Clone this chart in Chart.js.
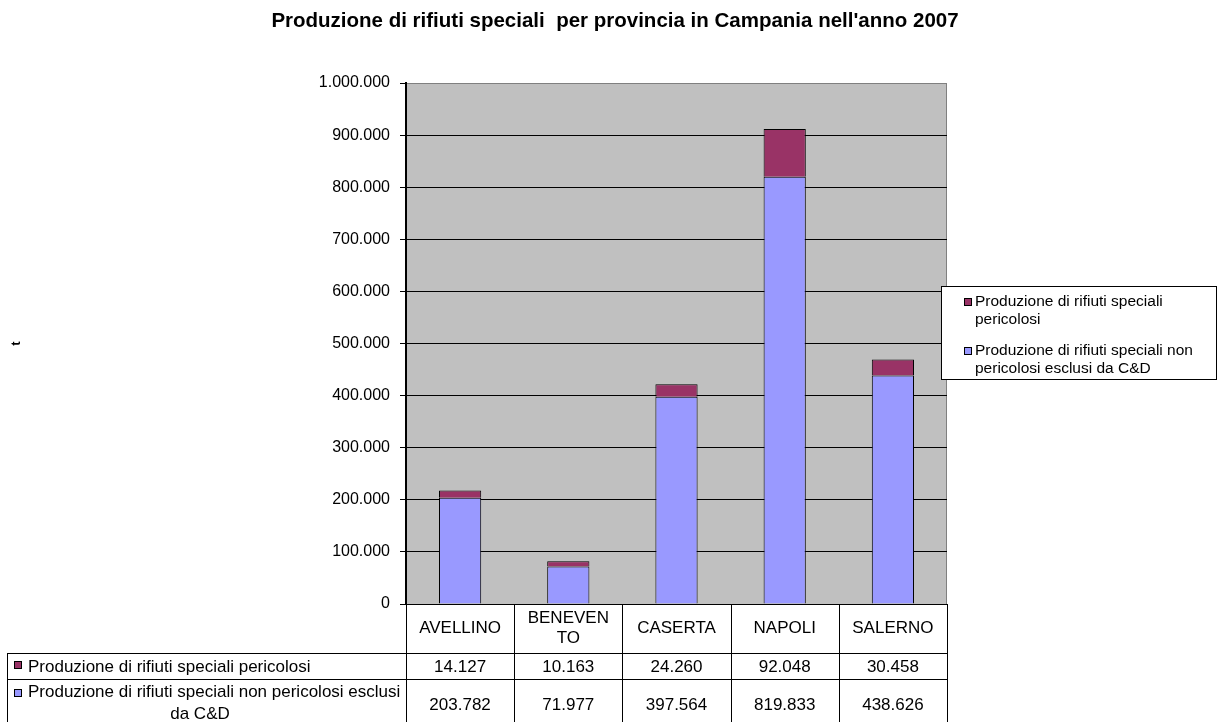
<!DOCTYPE html>
<html lang="it">
<head>
  <meta charset="UTF-8" />
  <title>Rifiuti speciali Campania 2007</title>
  <script src="https://cdn.jsdelivr.net/npm/chart.js"></script>
  <style>
    body { margin: 0; background: #fff; }
    #wrap { width: 1226px; height: 722px; position: relative; }
  </style>
</head>
<body>
  <div id="wrap"><canvas id="rifiuti-chart"></canvas></div>

  <script>
    const categories = ['AVELLINO', 'BENEVENTO', 'CASERTA', 'NAPOLI', 'SALERNO'];
    const pericolosi = [14127, 10163, 24260, 92048, 30458];
    const nonPericolosi = [203782, 71977, 397564, 819833, 438626];
    const seriesLabels = [
      'Produzione di rifiuti speciali pericolosi',
      'Produzione di rifiuti speciali non pericolosi esclusi da C&D'
    ];
    const seriesColors = ['#993366', '#9999FF'];
    const yMin = 0, yMax = 1000000, yStep = 100000;
    const titleText = "Produzione di rifiuti speciali  per provincia in Campania nell'anno 2007";
    const yTitle = 't';

    const FONT = '"Liberation Sans", Arial, sans-serif';

    // 1234567 -> "1.234.567"
    function fmt(v) {
      return String(v).replace(/\B(?=(\d{3})+(?!\d))/g, '.');
    }

    function wrapWords(ctx, text, maxW) {
      const words = text.split(' ');
      const lines = [];
      let cur = '';
      words.forEach(w => {
        const test = cur ? cur + ' ' + w : w;
        if (cur && ctx.measureText(test).width > maxW) {
          lines.push(cur);
          cur = w;
        } else {
          cur = test;
        }
      });
      if (cur) lines.push(cur);
      return lines;
    }

    function wrapChars(ctx, text, maxW) {
      const lines = [];
      let cur = '';
      for (const ch of text) {
        if (cur && ctx.measureText(cur + ch).width > maxW) {
          lines.push(cur);
          cur = ch;
        } else {
          cur += ch;
        }
      }
      if (cur) lines.push(cur);
      return lines;
    }

    function drawKey(ctx, x, y, color) {
      ctx.fillStyle = color;
      ctx.fillRect(x, y, 8, 8);
      ctx.strokeStyle = '#000';
      ctx.lineWidth = 1;
      ctx.strokeRect(x + 0.5, y + 0.5, 7, 7);
    }

    function hline(ctx, x1, x2, y) {
      ctx.beginPath();
      ctx.moveTo(x1, y + 0.5);
      ctx.lineTo(x2, y + 0.5);
      ctx.stroke();
    }

    function vline(ctx, x, y1, y2) {
      ctx.beginPath();
      ctx.moveTo(Math.round(x) + 0.5, y1);
      ctx.lineTo(Math.round(x) + 0.5, y2);
      ctx.stroke();
    }

    // page title, centred on the whole canvas
    const pageTitle = {
      id: 'pageTitle',
      afterDraw(chart) {
        const { ctx } = chart;
        ctx.save();
        ctx.fillStyle = '#000';
        ctx.font = 'bold 20.5px ' + FONT;
        ctx.textAlign = 'center';
        ctx.textBaseline = 'alphabetic';
        ctx.fillText(titleText, 615, 27);
        ctx.restore();
      }
    };

    // gray plot background + gray right edge
    const plotBackground = {
      id: 'plotBackground',
      beforeDraw(chart) {
        const { ctx, chartArea: a } = chart;
        ctx.save();
        ctx.fillStyle = '#C0C0C0';
        ctx.fillRect(a.left, a.top, a.right - a.left, a.bottom - a.top);
        ctx.strokeStyle = '#808080';
        ctx.lineWidth = 1;
        vline(ctx, a.right - 1, a.top, a.bottom);
        ctx.restore();
      }
    };

    // data table under the plot
    const dataTable = {
      id: 'dataTable',
      afterDraw(chart) {
        const { ctx, chartArea: a } = chart;
        const n = categories.length;
        const colW = (a.right - a.left) / n;
        const bottom = chart.height;
        const row1Top = 653, row2Top = 679, tableLeft = 7;

        ctx.save();
        ctx.strokeStyle = '#000';
        ctx.lineWidth = 1;
        for (let i = 0; i <= n; i++) vline(ctx, a.left + i * colW, a.bottom, bottom);
        vline(ctx, tableLeft, row1Top, bottom);
        hline(ctx, tableLeft, a.right, row1Top);
        hline(ctx, tableLeft, a.right, row2Top);

        ctx.fillStyle = '#000';
        ctx.font = '17px ' + FONT;
        ctx.textAlign = 'center';
        ctx.textBaseline = 'middle';

        // category header
        categories.forEach((c, i) => {
          const cx = a.left + (i + 0.5) * colW;
          const lines = wrapChars(ctx, c, colW - 24);
          const lh = 20;
          const y0 = 628 - (lines.length - 1) * lh / 2;
          lines.forEach((l, k) => ctx.fillText(l, cx, y0 + k * lh));
        });

        // row 1: pericolosi
        drawKey(ctx, 14, 661, seriesColors[0]);
        ctx.fillStyle = '#000';
        ctx.textAlign = 'left';
        ctx.fillText(seriesLabels[0], 28, 667);
        ctx.textAlign = 'center';
        pericolosi.forEach((v, i) => ctx.fillText(fmt(v), a.left + (i + 0.5) * colW, 667));

        // row 2: non pericolosi
        drawKey(ctx, 14, 689, seriesColors[1]);
        ctx.fillStyle = '#000';
        const lines2 = wrapWords(ctx, seriesLabels[1], a.left - 30);
        ctx.textAlign = 'left';
        ctx.fillText(lines2[0], 28, 692);
        ctx.textAlign = 'center';
        lines2.slice(1).forEach((l, k) => ctx.fillText(l, 200, 714 + k * 19));
        nonPericolosi.forEach((v, i) => ctx.fillText(fmt(v), a.left + (i + 0.5) * colW, 705));
        ctx.restore();
      }
    };

    // boxed legend on the right
    const boxLegend = {
      id: 'boxLegend',
      afterDraw(chart) {
        const { ctx } = chart;
        const box = { x: 941, y: 286, w: 276, h: 94 };
        ctx.save();
        ctx.fillStyle = '#fff';
        ctx.fillRect(box.x, box.y, box.w, box.h);
        ctx.strokeStyle = '#000';
        ctx.lineWidth = 1;
        ctx.strokeRect(box.x + 0.5, box.y + 0.5, box.w - 1, box.h - 1);

        ctx.font = '15.5px ' + FONT;
        ctx.textAlign = 'left';
        ctx.textBaseline = 'middle';
        let y = 302;
        [0, 1].forEach(s => {
          drawKey(ctx, 964, y - 4, seriesColors[s]);
          ctx.fillStyle = '#000';
          const lines = wrapWords(ctx, seriesLabels[s], 236);
          lines.forEach((l, k) => ctx.fillText(l, 975, y + k * 18));
          y += 49;
        });
        ctx.restore();
      }
    };

    const ctx = document.getElementById('rifiuti-chart').getContext('2d');

    new Chart(ctx, {
      type: 'bar',
      data: {
        labels: categories,
        datasets: [
          {
            label: seriesLabels[1],
            data: nonPericolosi,
            backgroundColor: seriesColors[1],
            borderColor: '#000',
            borderWidth: 1
          },
          {
            label: seriesLabels[0],
            data: pericolosi,
            backgroundColor: seriesColors[0],
            borderColor: '#000',
            borderWidth: 1
          }
        ]
      },
      options: {
        responsive: true,
        maintainAspectRatio: false,
        animation: false,
        categoryPercentage: 1,
        barPercentage: 0.39,
        layout: { padding: { left: 0, right: 279, top: 83, bottom: 118 } },
        plugins: {
          legend: { display: false },
          tooltip: { enabled: false },
          title: { display: false }
        },
        scales: {
          x: {
            display: false,
            stacked: true
          },
          y: {
            stacked: true,
            min: yMin,
            max: yMax,
            afterFit(scale) { scale.width = 406; },
            border: { display: true, color: '#000', width: 2 },
            grid: {
              color: c => (c.tick && c.tick.value === yMax ? '#808080' : '#000'),
              tickColor: '#000',
              tickLength: 6,
              lineWidth: 1
            },
            ticks: {
              stepSize: yStep,
              padding: 10,
              color: '#000',
              font: { family: FONT, size: 16 },
              callback: v => fmt(v)
            },
            title: {
              display: true,
              text: yTitle,
              color: '#000',
              font: { family: FONT, size: 13, weight: 'bold' },
              padding: { top: 9, bottom: 0 }
            }
          }
        }
      },
      plugins: [plotBackground, dataTable, boxLegend, pageTitle]
    });
  </script>
</body>
</html>
